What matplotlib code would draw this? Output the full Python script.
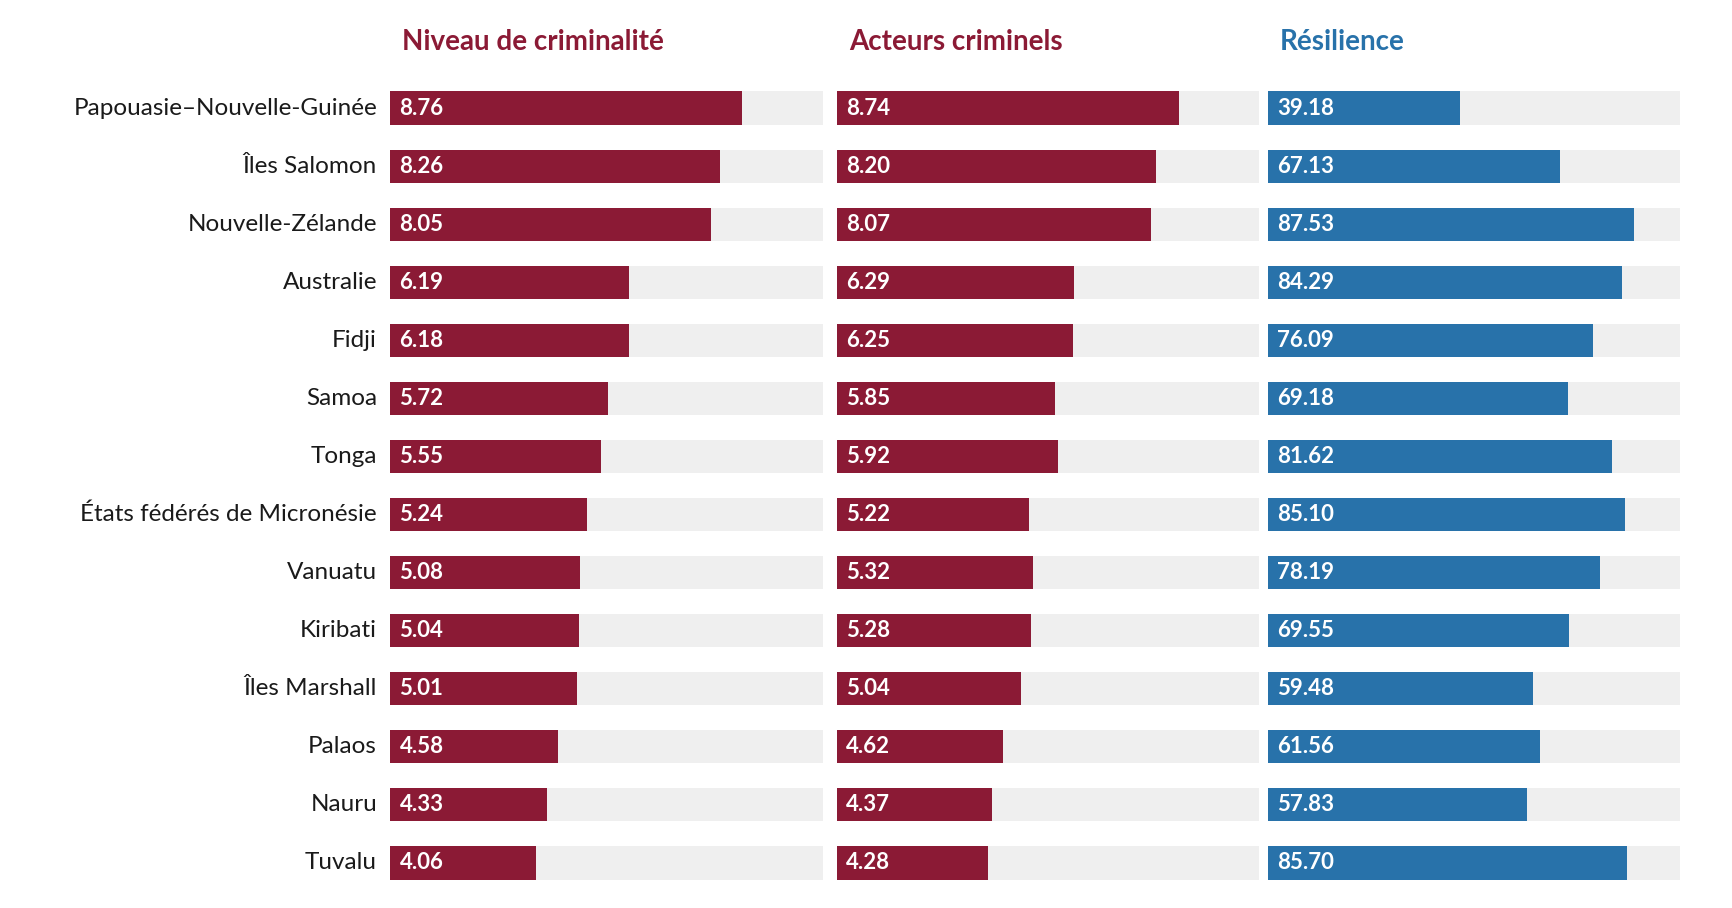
import matplotlib
matplotlib.use("Agg")
import matplotlib.pyplot as plt

countries = ["Papouasie–Nouvelle-Guinée", "Îles Salomon", "Nouvelle-Zélande", "Australie", "Fidji",
             "Samoa", "Tonga", "États fédérés de Micronésie", "Vanuatu", "Kiribati",
             "Îles Marshall", "Palaos", "Nauru", "Tuvalu"]
criminality = [8.76, 8.26, 8.05, 6.19, 6.18, 5.72, 5.55, 5.24, 5.08, 5.04, 5.01, 4.58, 4.33, 4.06]
actors = [8.74, 8.20, 8.07, 6.29, 6.25, 5.85, 5.92, 5.22, 5.32, 5.28, 5.04, 4.62, 4.37, 4.28]
resilience = [39.18, 67.13, 87.53, 84.29, 76.09, 69.18, 81.62, 85.10, 78.19, 69.55, 59.48, 61.56, 57.83, 85.70]
titles = ["Niveau de criminalité", "Acteurs criminels", "Résilience"]

red = "#8B1A35"
blue = "#2872AA"
grey = "#EFEFEF"
plt.rcParams["font.family"] = ["Lato", "DejaVu Sans"]

W, H = 1732, 908
fig = plt.figure(figsize=(W / 100, H / 100), dpi=100)

# column pixel extents: left, width, xmin, xmax, colour
cols = [
    (390, 433, 0.75, 10.6, criminality, red),
    (837, 422, 0.75, 10.6, actors, red),
    (1268, 412, -14.5, 100.5, resilience, blue),
]
top, bottom = 79, 892
y = list(range(len(countries)))

for i, (left, width, xmin, xmax, vals, col) in enumerate(cols):
    ax = fig.add_axes([left / W, 1 - bottom / H, width / W, (bottom - top) / H])
    ax.barh(y, [xmax - xmin] * len(y), left=xmin, height=0.57, color=grey)
    ax.barh(y, [v - xmin for v in vals], left=xmin, height=0.57, color=col)
    for yi, v in zip(y, vals):
        ax.text(xmin + (xmax - xmin) * 0.022, yi, f"{v:.2f}", color="white",
                fontsize=16, fontweight="bold", va="center", ha="left")
    ax.set_xlim(xmin, xmax)
    ax.set_ylim(len(y) - 0.5, -0.5)
    ax.axis("off")
    ax.text(left / W + 0.007, 1 - 42 / H, titles[i], transform=fig.transFigure,
            color=col, fontsize=20, fontweight="bold", va="center", ha="left")
    if i == 0:
        for yi, c in zip(y, countries):
            ax.text(-0.03, yi, c, transform=ax.get_yaxis_transform(),
                    fontsize=17.5, ha="right", va="center", color="#1a1a1a")

fig.savefig("out.png", dpi=100, facecolor="white")
